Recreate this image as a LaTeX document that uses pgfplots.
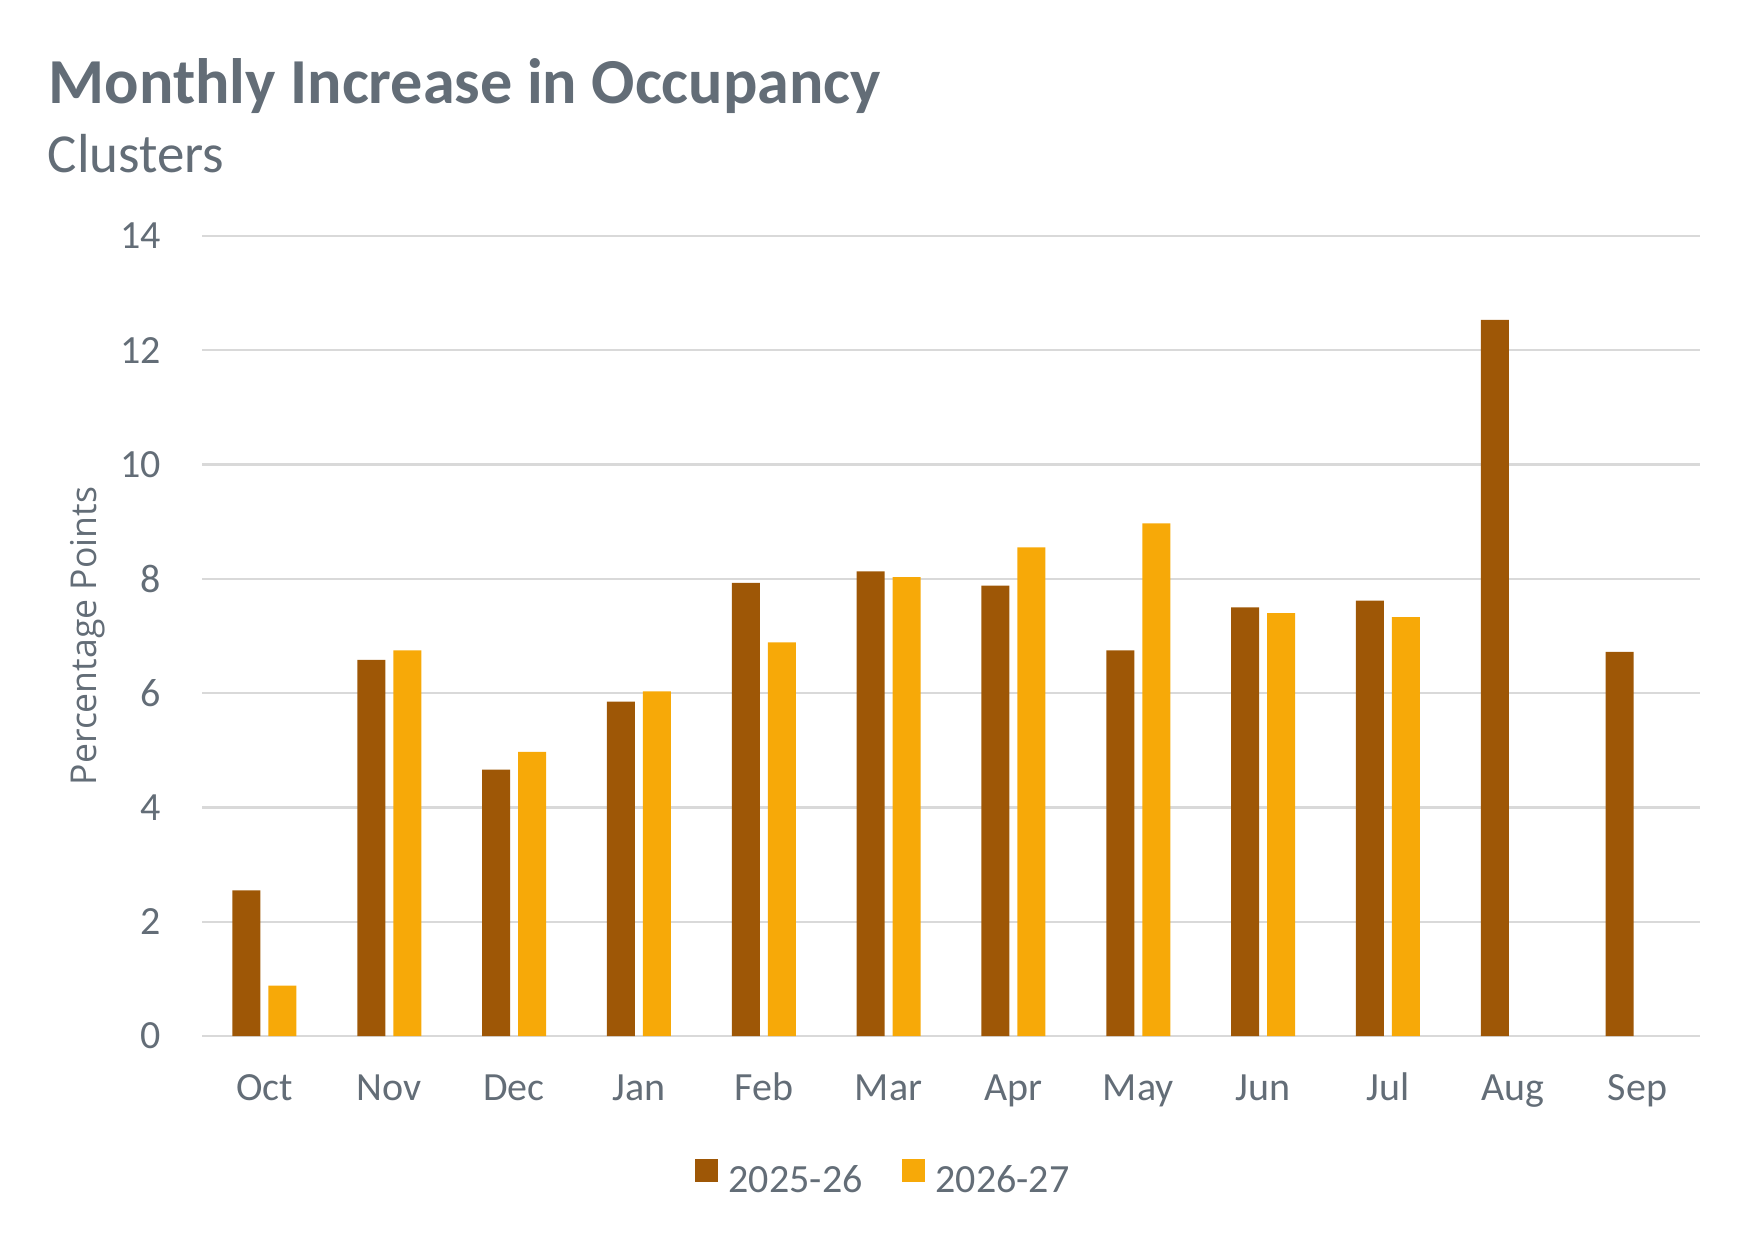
\documentclass[border=0pt]{standalone}
\usepackage{pgfplots}
\pgfplotsset{compat=1.18}
\usepackage{fontspec}
\setmainfont{Carlito}
\newfontfamily\labelfont{Open Sans}
\definecolor{cbrown}{RGB}{158,87,6}
\definecolor{cyellow}{RGB}{247,169,8}
\definecolor{ctext}{RGB}{99,109,119}
\definecolor{cgrid}{RGB}{217,217,217}
\begin{document}
\begin{tikzpicture}
\path[use as bounding box] (0,0) rectangle (437.5bp,311.75bp);
\node[anchor=base west, inner sep=0pt, text=ctext, font=\fontsize{16.03bp}{18bp}\selectfont\bfseries] at (12bp,285.75bp) {Monthly Increase in Occupancy};
\node[anchor=base west, inner sep=0pt, text=ctext, font=\fontsize{13.75bp}{16bp}\selectfont] at (11.75bp,268.6bp) {Clusters};
\begin{axis}[
  at={(50.5bp,52.75bp)}, anchor=south west,
  scale only axis, width=374.5bp, height=200bp,
  xmin=-0.5, xmax=11.5, ymin=0, ymax=14,
  xtick={0,...,11},
  xticklabels={Oct,Nov,Dec,Jan,Feb,Mar,Apr,May,Jun,Jul,Aug,Sep},
  ytick={0,2,...,14},
  axis line style={draw=none},
  major tick length=0pt,
  ymajorgrids,
  grid style={cgrid, line width=0.6bp},
  tick label style={font=\fontsize{10bp}{12bp}\selectfont, text=ctext, inner sep=0pt},
  yticklabel style={anchor=east, xshift=-10bp},
  xticklabel style={anchor=base, yshift=-16.2bp},
  /pgf/number format/assume math mode=true,
  legend style={draw=none, fill=none, at={(0.454,-0.178)}, anchor=center,
    font=\fontsize{10bp}{12bp}\selectfont, text=ctext,
    column sep=0pt, nodes={inner sep=0pt},
    /tikz/every even column/.append style={column sep=9.75bp}},
  legend columns=2,
  legend image code/.code={\fill[#1,draw=none] (0bp,0bp) rectangle (5.75bp,5.75bp); \path (8.5bp,0bp);},
  clip=false,
]
\addplot[ybar, bar width=7bp, bar shift=-4.5bp, fill=cbrown, draw=none] coordinates {
 (0,2.55) (1,6.58) (2,4.66) (3,5.85) (4,7.93) (5,8.13) (6,7.88) (7,6.75) (8,7.50) (9,7.62) (10,12.53) (11,6.72)};
\addplot[ybar, bar width=7bp, bar shift=4.5bp, fill=cyellow, draw=none] coordinates {
 (0,0.88) (1,6.75) (2,4.97) (3,6.03) (4,6.89) (5,8.03) (6,8.55) (7,8.97) (8,7.40) (9,7.33)};
\legend{2025-26,2026-27}
\node[rotate=90, anchor=base, inner sep=0pt, text=ctext, font=\labelfont\fontsize{8.9bp}{11bp}\selectfont] at ([xshift=-26.3bp]axis description cs:0,0.5) {Percentage Points};
\end{axis}
\end{tikzpicture}
\end{document}
